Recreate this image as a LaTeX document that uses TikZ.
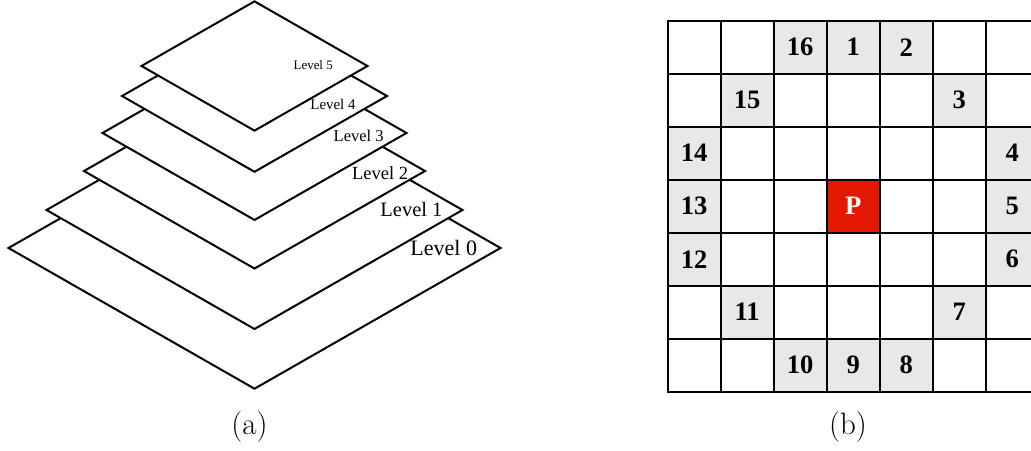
\documentclass[tikz,border=0pt]{standalone}
\usepackage{fontspec}
\newfontfamily\tnr{Liberation Serif}
\usepackage{tikz}
\definecolor{cellG}{RGB}{232,232,232}
\definecolor{cellR}{RGB}{227,24,0}

\begin{document}
\begin{tikzpicture}[x=0.5pt, y=-0.5pt,
  lvl/.style={draw=black, line width=1pt, fill=white, line join=miter},
  cell/.style={draw=black, line width=0.85pt, minimum size=26.5pt, inner sep=0pt,
    outer sep=0pt, font=\tnr\bfseries\fontsize{13.3}{13.3}\selectfont},
  tag/.style={inner sep=0pt, anchor=base west},
  subcap/.style={inner sep=0pt, font=\fontsize{15.5}{17}\selectfont}]
\useasboundingbox (0,0) rectangle (1031,450);
\clip (0,0) rectangle (1031,450);
% pyramid: widest level first, each higher one painted over it
\foreach \k/\yc/\hw in {0/248/246, 1/210/208, 2/171/170.5, 3/133/152, 4/96/132.5, 5/66/113}
  {\pgfmathsetmacro{\hh}{0.572*\hw}
   \draw[lvl] ({254.5-\hw},\yc) -- (254.5,{\yc-\hh}) -- ({254.5+\hw},\yc)
     -- (254.5,{\yc+\hh}) -- cycle;}
% level names, shrinking towards the top
\foreach \k/\lx/\ly/\fs in {0/410/255/11, 1/380/216.7/10.25, 2/351.7/179.3/9.25,
    3/333.3/141.7/8.25, 4/310/109/7.45, 5/293.3/69.3/6.45}
  \node[tag, font=\tnr\fontsize{\fs}{\fs}\selectfont] (lv\k) at (\lx,\ly) {Level \k};
\node[subcap] (capA) at (249.5,427) {(a)};
% 7x7 neighbourhood grid
\foreach \r in {0,...,6}
  \foreach \c in {0,...,6}
    \node[cell] (g-\r-\c) at ({667.7+53*(\c+0.5)},{20.7+53*(\r+0.5)}) {};
% the 16 ring cells around the centre pixel
\foreach \r/\c/\n in {0/3/1, 0/4/2, 1/5/3, 2/6/4, 3/6/5, 4/6/6, 5/5/7, 6/4/8,
    6/3/9, 6/2/10, 5/1/11, 4/0/12, 3/0/13, 2/0/14, 1/1/15, 0/2/16}
  \node[cell, fill=cellG] (n\n) at (g-\r-\c) {\n};
\node[cell, fill=cellR, text=white] (pc) at (g-3-3) {P};
\node[subcap] (capB) at (848,427) {(b)};
\end{tikzpicture}
\end{document}
